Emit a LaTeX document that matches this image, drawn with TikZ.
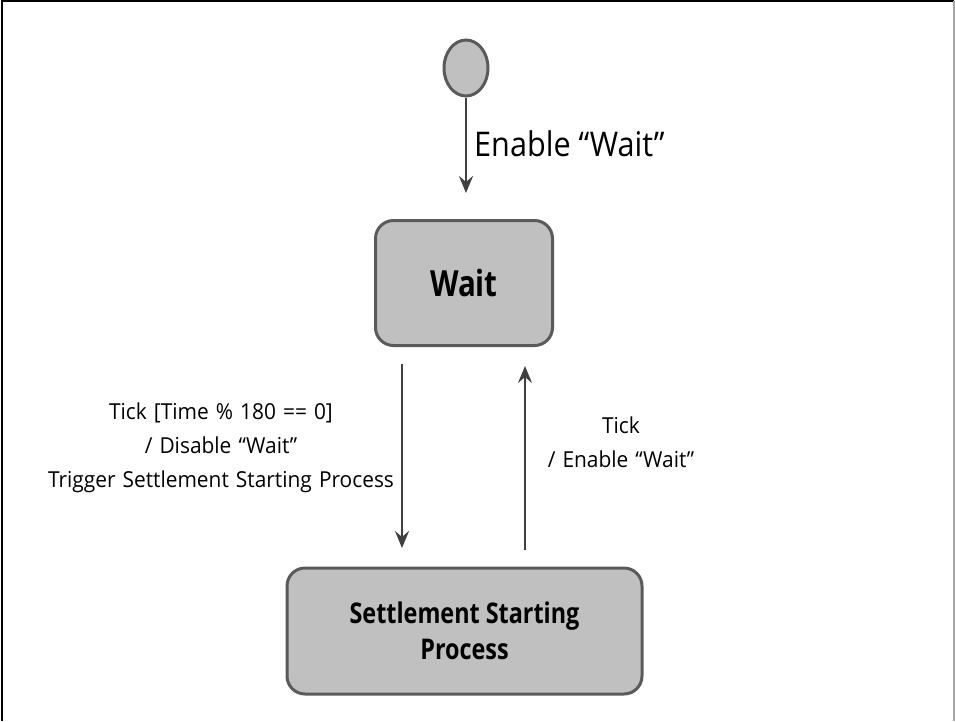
\documentclass[tikz,border=0pt]{standalone}
\usepackage{fontspec}
\setmainfont{Open Sans}[FakeStretch=0.82]
\newfontfamily\labelfont{Open Sans}[FakeStretch=0.95, WordSpace=1.3]
\newfontfamily\biglabelfont{Open Sans}[FakeStretch=0.9]
\usetikzlibrary{shapes.geometric,arrows.meta}
\definecolor{boxfill}{HTML}{C0C0C0}
\definecolor{boxline}{HTML}{5A5A5A}
\definecolor{arrowcol}{HTML}{404040}
\tikzset{
  state/.style={draw=boxline, line width=3pt, fill=boxfill, rounded corners=18pt, align=center, inner sep=0pt},
  trans/.style={draw=arrowcol, line width=2.5pt, -{Stealth[length=17pt,width=14pt,inset=6pt]}},
  lbl/.style={align=center, inner sep=0pt, font=\labelfont\fontsize{22}{34}\selectfont},
}
\begin{document}
\begin{tikzpicture}[x=1pt,y=-1pt]
\useasboundingbox (0,0) rectangle (955,721);
\draw[black, line width=2.5pt] (2,721) -- (2,1) -- (954,1);
\draw[gray!70, line width=2pt] (954,1) -- (954,721);
\node[ellipse, draw=boxline, line width=3pt, fill=boxfill, minimum width=44pt, minimum height=56pt, inner sep=0pt] (init) at (466,68) {};
\node[state, minimum width=177pt, minimum height=125pt, font=\bfseries\fontsize{36}{44}\selectfont] (wait) at (464,283) {Wait};
\node[state, minimum width=355pt, minimum height=126pt, font=\bfseries\fontsize{28.5}{36}\selectfont] (settle) at (464.5,631) {Settlement Starting\\Process};
\coordinate (initend) at (466,193);
\coordinate (dstart) at (402,364);
\coordinate (dend) at (402,548);
\coordinate (ustart) at (525,550);
\coordinate (uend) at (525,366);
\draw[trans] (init) -- (initend);
\draw[trans] (dstart) -- (dend);
\draw[trans] (ustart) -- (uend);
\node[lbl, anchor=west, font=\biglabelfont\fontsize{34}{40}\selectfont] (enlbl) at (474,144) {Enable “Wait”};
\node[lbl] (leftlbl) at (221,448) {Tick [Time \% 180 == 0]\\/ Disable “Wait”\\Trigger Settlement Starting Process};
\node[lbl] (rightlbl) at (621,442) {Tick\\/ Enable “Wait”};
\end{tikzpicture}
\end{document}
